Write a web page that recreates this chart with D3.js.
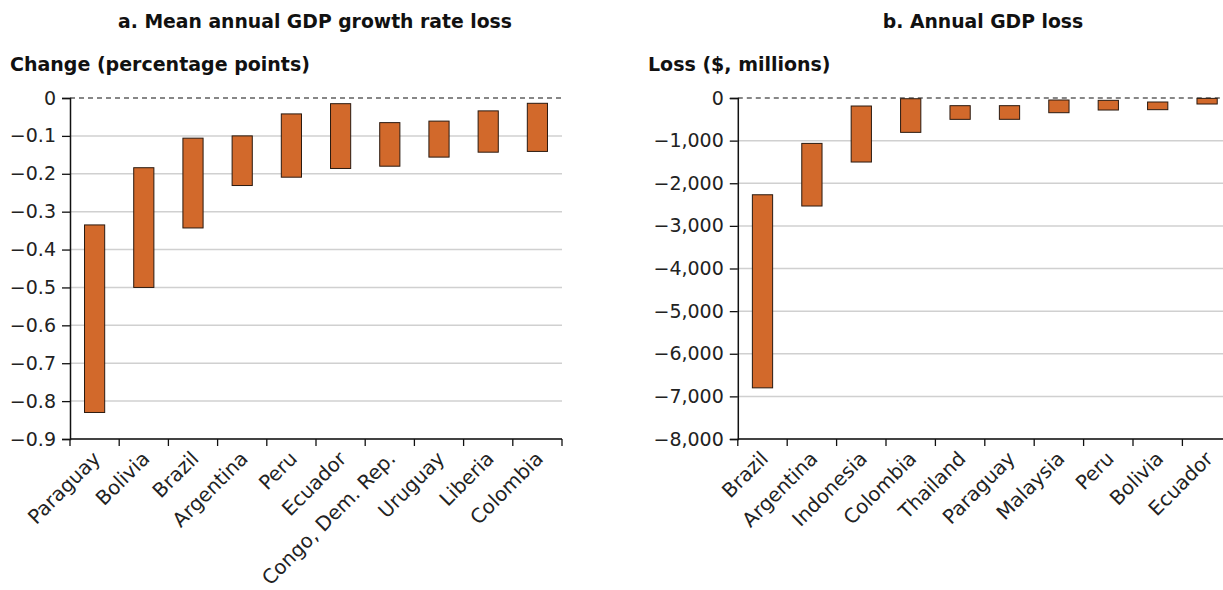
<!DOCTYPE html>
<html>
<head>
<meta charset="utf-8">
<script src="https://cdn.jsdelivr.net/npm/d3@7"></script>
<style>
  body { margin: 0; background: #fff; }
  svg { display: block; font-family: "DejaVu Sans", sans-serif; }
</style>
</head>
<body>
<script>
// panel a data: growth rate loss range (percentage points)
var growthCountries = ["Paraguay", "Bolivia", "Brazil", "Argentina", "Peru", "Ecuador",
  "Congo, Dem. Rep.", "Uruguay", "Liberia", "Colombia"];
var growthHigh = [-0.335, -0.184, -0.106, -0.10, -0.042, -0.015, -0.065, -0.061, -0.034, -0.014];
var growthLow = [-0.83, -0.50, -0.343, -0.231, -0.209, -0.186, -0.18, -0.156, -0.143, -0.141];
var growthTicks = [0, -0.1, -0.2, -0.3, -0.4, -0.5, -0.6, -0.7, -0.8, -0.9];

// panel b data: annual GDP loss range ($ millions)
var lossCountries = ["Brazil", "Argentina", "Indonesia", "Colombia", "Thailand", "Paraguay",
  "Malaysia", "Peru", "Bolivia", "Ecuador"];
var lossHigh = [-2270, -1065, -188, -17, -180, -180, -47, -55, -94, -9];
var lossLow = [-6800, -2534, -1502, -806, -501, -500, -345, -282, -274, -141];
var lossTicks = [0, -1000, -2000, -3000, -4000, -5000, -6000, -7000, -8000];

var W = 1223, H = 590;
var barColor = "#d2692b";

var svg = d3.select("body").append("svg")
  .attr("width", W)
  .attr("height", H);

function drawPanel(opt) {
  var g = svg.append("g");

  var x = d3.scaleBand()
    .domain(opt.cats)
    .range([opt.x0, opt.x1])
    .paddingInner(0.59)
    .paddingOuter(0.295);

  var y = d3.scaleLinear()
    .domain([opt.ticks[opt.ticks.length - 1], 0])
    .range([439, 98]);

  // title + y label
  g.append("text")
    .attr("x", opt.titleX)
    .attr("y", 28)
    .attr("text-anchor", "middle")
    .style("font-size", "18.8px")
    .style("font-weight", "bold")
    .attr("fill", "#111")
    .text(opt.title);
  g.append("text")
    .attr("x", opt.labelX)
    .attr("y", 71)
    .style("font-size", "19px")
    .style("font-weight", "bold")
    .attr("fill", "#111")
    .text(opt.yLabel);

  // gridlines
  g.selectAll(".grid")
    .data(opt.ticks.filter(function(d) { return d !== 0; }))
    .enter().append("line")
    .attr("x1", opt.x0)
    .attr("x2", opt.gridEnd)
    .attr("y1", function(d) { return y(d); })
    .attr("y2", function(d) { return y(d); })
    .attr("stroke", "#d0d0d0")
    .attr("stroke-width", 1.5);

  // zero line dashed
  g.append("line")
    .attr("x1", opt.x0)
    .attr("x2", opt.gridEnd)
    .attr("y1", y(0))
    .attr("y2", y(0))
    .attr("stroke", "#111")
    .attr("stroke-width", 1.2)
    .attr("stroke-dasharray", "5,4");

  // bars (floating ranges)
  var rows = opt.cats.map(function(c, i) { return { c: c, hi: opt.high[i], lo: opt.low[i] }; });
  g.selectAll(".bar")
    .data(rows)
    .enter().append("rect")
    .attr("x", function(d) { return x(d.c); })
    .attr("width", x.bandwidth())
    .attr("y", function(d) { return y(d.hi); })
    .attr("height", function(d) { return y(d.lo) - y(d.hi); })
    .attr("fill", barColor)
    .attr("stroke", "#2a1a10")
    .attr("stroke-width", 1);

  // y axis
  var yAxis = d3.axisLeft(y)
    .tickValues(opt.ticks)
    .tickSize(8)
    .tickPadding(6)
    .tickFormat(opt.fmt);
  var gy = g.append("g")
    .attr("transform", "translate(" + opt.x0 + ",0)")
    .call(yAxis);
  gy.select(".domain").attr("stroke", "#111").attr("stroke-width", 1.5);
  gy.selectAll(".tick line").attr("stroke", "#111").attr("stroke-width", 1.3);
  gy.selectAll(".tick text")
    .style("font-size", "19px")
    .style("font-family", "DejaVu Sans, sans-serif")
    .attr("fill", "#222");

  // x axis: ticks on band boundaries
  var step = x.step();
  var bounds = d3.range(opt.cats.length + 1).map(function(i) { return opt.x0 + i * step; });
  g.append("line")
    .attr("x1", opt.x0)
    .attr("x2", Math.min(opt.x1, W))
    .attr("y1", y.range()[0])
    .attr("y2", y.range()[0])
    .attr("stroke", "#111")
    .attr("stroke-width", 1.5);
  g.selectAll(".xtick")
    .data(bounds)
    .enter().append("line")
    .attr("x1", function(d) { return d; })
    .attr("x2", function(d) { return d; })
    .attr("y1", y.range()[0])
    .attr("y2", y.range()[0] + 7)
    .attr("stroke", "#111")
    .attr("stroke-width", 1.3);

  g.selectAll(".xlab")
    .data(opt.cats)
    .enter().append("text")
    .attr("transform", function(d) {
      return "translate(" + (x(d) + x.bandwidth() / 2 + 2) + "," + (y.range()[0] + 16) + ") rotate(-45)";
    })
    .attr("text-anchor", "end")
    .attr("dy", "0.35em")
    .style("font-size", "19.8px")
    .attr("fill", "#222")
    .text(function(d) { return d; });
}

drawPanel({
  cats: growthCountries, high: growthHigh, low: growthLow, ticks: growthTicks,
  x0: 70, x1: 562, gridEnd: 562,
  title: "a. Mean annual GDP growth rate loss", titleX: 315,
  yLabel: "Change (percentage points)", labelX: 10,
  fmt: function(d) { return d === 0 ? "0" : d3.format(".1f")(d).replace("-", "\u2212"); }
});

drawPanel({
  cats: lossCountries, high: lossHigh, low: lossLow, ticks: lossTicks,
  x0: 737.8, x1: 1231.8, gridEnd: 1223,
  title: "b. Annual GDP loss", titleX: 983,
  yLabel: "Loss ($, millions)", labelX: 648,
  fmt: function(d) { return d === 0 ? "0" : d3.format(",")(d).replace("-", "\u2212"); }
});
</script>
</body>
</html>
